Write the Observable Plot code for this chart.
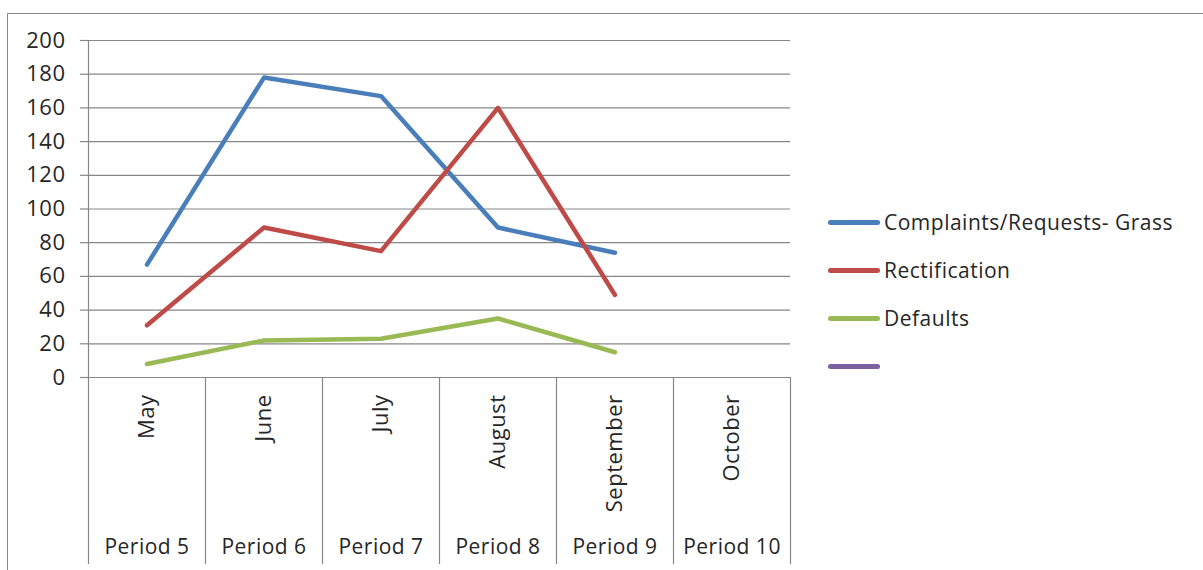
<!DOCTYPE html>
<html>
<head>
<meta charset="utf-8">
<script src="https://cdn.jsdelivr.net/npm/d3@7"></script>
<script src="https://cdn.jsdelivr.net/npm/@observablehq/plot@0.6"></script>
<style>
  html, body { margin: 0; padding: 0; background: #fff; }
  #wrap { position: relative; width: 1203px; height: 570px; overflow: hidden; font-family: "Open Sans", sans-serif; }
  #frame { position: absolute; left: 7px; top: 13px; width: 1300px; height: 700px; border-top: 1.5px solid #8a8a8a; border-left: 1.5px solid #8a8a8a; }
  #chart { position: absolute; left: 0; top: 0; }
  #legend { position: absolute; left: 828px; top: 198px; }
  .item { display: flex; align-items: center; height: 48px; }
  .sw { width: 52px; height: 5px; border-radius: 3px; margin-right: 4px; }
  .lab { font-size: 21px; letter-spacing: 0.5px; color: #262626; white-space: nowrap; }
  #chart text { letter-spacing: 0.5px; }
</style>
</head>
<body>
<div id="wrap">
  <div id="frame"></div>
  <div id="chart"></div>
  <div id="legend"></div>
</div>
<script>
const months = ["May", "June", "July", "August", "September", "October"];
const periods = ["Period 5", "Period 6", "Period 7", "Period 8", "Period 9", "Period 10"];
const seriesNames = ["Complaints/Requests- Grass", "Rectification", "Defaults", ""];
const seriesColors = ["#4a7ebb", "#be4b48", "#98b954", "#7d60a0"];
const complaints = [67, 178, 167, 89, 74, null];
const rectification = [31, 89, 75, 160, 49, null];
const defaults = [8, 22, 23, 35, 15, null];
const unnamed = [null, null, null, null, null, null];
const yTicks = [0, 20, 40, 60, 80, 100, 120, 140, 160, 180, 200];

const seriesValues = [complaints, rectification, defaults, unnamed];
const rows = [];
seriesValues.forEach((vals, s) => {
  vals.forEach((v, i) => {
    if (v != null) rows.push({series: "s" + s, idx: i, value: v});
  });
});
const bounds = d3.range(months.length + 1);

const W = 1203, H = 570, mL = 88, mR = 413, mT = 40, mB = 193;
const plotH = H - mT - mB;
const font = "'Open Sans', sans-serif";

const chart = Plot.plot({
  width: W,
  height: H,
  marginLeft: mL,
  marginRight: mR,
  marginTop: mT,
  marginBottom: mB,
  style: {fontFamily: font, fontSize: "21px", color: "#262626", background: "transparent", overflow: "visible"},
  x: {type: "linear", domain: [0, months.length], axis: null},
  y: {domain: [0, 200], axis: null},
  color: {domain: seriesValues.map((_, s) => "s" + s), range: seriesColors},
  marks: [
    Plot.gridY(yTicks, {stroke: "#878787", strokeOpacity: 1, strokeWidth: 1.2}),
    Plot.axisY(yTicks, {tickSize: 8, tickPadding: 15, stroke: "#878787", strokeWidth: 1.2, fill: "#262626", fontSize: 22, label: null}),
    Plot.ruleX([0], {stroke: "#878787", strokeWidth: 1.2, insetBottom: -187}),
    Plot.ruleX(bounds.slice(1), {stroke: "#878787", strokeWidth: 1.2, insetTop: plotH, insetBottom: -187}),
    Plot.line(rows, {x: d => d.idx + 0.5, y: "value", z: "series", stroke: "series", strokeWidth: 4.5, strokeLinecap: "round", strokeLinejoin: "round"}),
    Plot.text(months, {x: (d, i) => i + 0.5, frameAnchor: "bottom", text: d => d, rotate: -90, textAnchor: "end", dx: 7, dy: 17, fill: "#262626", fontSize: 22}),
    Plot.text(periods, {x: (d, i) => i + 0.5, frameAnchor: "bottom", text: d => d, dy: 176, fill: "#262626", fontSize: 21})
  ]
});
document.getElementById("chart").appendChild(chart);

const legend = document.getElementById("legend");
seriesNames.forEach((name, s) => {
  const item = document.createElement("div");
  item.className = "item";
  const sw = document.createElement("div");
  sw.className = "sw";
  sw.style.background = seriesColors[s];
  const lab = document.createElement("span");
  lab.className = "lab";
  lab.textContent = name;
  item.appendChild(sw);
  item.appendChild(lab);
  legend.appendChild(item);
});
</script>
</body>
</html>
